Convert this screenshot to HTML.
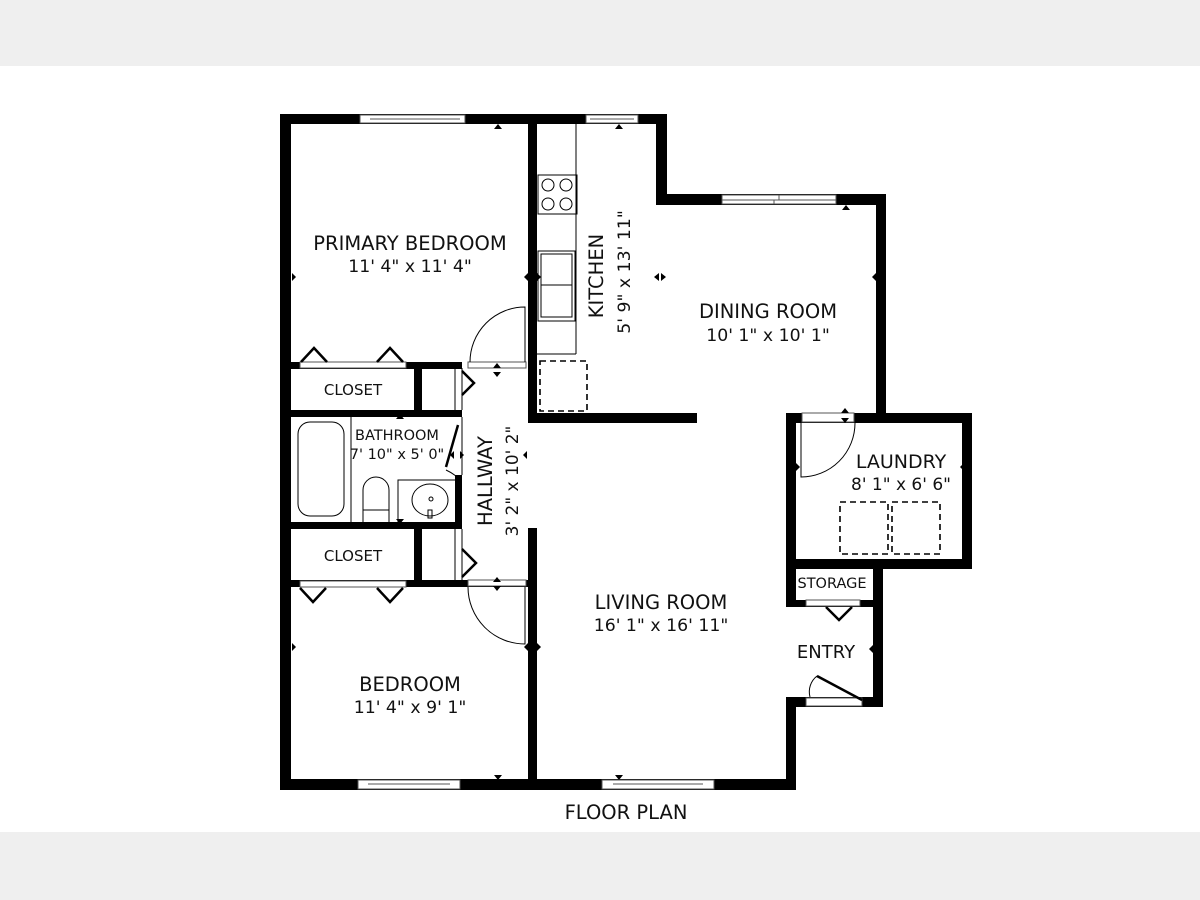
<!DOCTYPE html>
<html><head><meta charset="utf-8"><style>
html,body{margin:0;padding:0;background:#fff}
body{width:1200px;height:900px;position:relative;overflow:hidden;font-family:"DejaVu Sans","Liberation Sans",sans-serif}
.band{position:absolute;left:0;width:1200px;background:#efefef}
svg{position:absolute;left:0;top:0}
text{font-family:"DejaVu Sans","Liberation Sans",sans-serif;fill:#111}
</style></head><body>
<div class="band" style="top:0;height:66px"></div>
<div class="band" style="top:832px;height:68px"></div>
<svg width="1200" height="900" viewBox="0 0 1200 900">
<g fill="#000">
<rect x="280" y="114" width="11" height="676"/>
<rect x="280" y="114" width="387" height="10"/>
<rect x="656" y="114" width="11" height="91"/>
<rect x="656" y="194" width="230" height="11"/>
<rect x="876" y="194" width="10" height="229"/>
<rect x="786" y="413" width="186" height="10"/>
<rect x="962" y="413" width="10" height="156"/>
<rect x="786" y="559" width="186" height="10"/>
<rect x="786" y="413" width="10" height="193"/>
<rect x="786" y="600" width="97" height="7"/>
<rect x="873" y="559" width="10" height="148"/>
<rect x="786" y="697" width="97" height="10"/>
<rect x="786" y="697" width="10" height="93"/>
<rect x="280" y="779" width="516" height="11"/>
<rect x="528" y="114" width="9" height="309"/>
<rect x="528" y="413" width="169" height="10"/>
<rect x="280" y="362" width="182" height="7"/>
<rect x="414" y="362" width="8" height="48"/>
<rect x="280" y="410" width="182" height="7"/>
<rect x="455" y="475" width="7" height="54"/>
<rect x="280" y="522" width="182" height="7"/>
<rect x="414" y="522" width="8" height="59"/>
<rect x="280" y="580" width="257" height="7"/>
<rect x="528" y="528" width="9" height="262"/>
</g>
<g fill="#fff" stroke="#555" stroke-width="1">
<rect x="360" y="115" width="105" height="8"/><line x1="370" y1="119" x2="460" y2="119"/>
<rect x="586" y="115" width="52" height="8"/><line x1="590" y1="119" x2="634" y2="119"/>
<rect x="722" y="195" width="57" height="5"/><rect x="779" y="195" width="57" height="5"/>
<rect x="722" y="200" width="52" height="4"/><rect x="774" y="200" width="62" height="4"/>
<rect x="358" y="780" width="102" height="9"/><line x1="368" y1="784" x2="450" y2="784"/>
<rect x="602" y="780" width="112" height="9"/><line x1="613" y1="784" x2="703" y2="784"/>
<rect x="300" y="362" width="106" height="6"/>
<rect x="300" y="581" width="106" height="6"/>
<rect x="468" y="362" width="58" height="6"/>
<rect x="468" y="580" width="58" height="6"/>
<rect x="802" y="413" width="52" height="9"/>
<rect x="806" y="600" width="54" height="6"/>
<rect x="806" y="698" width="56" height="8"/>
</g>
<g fill="none" stroke="#000" stroke-width="1">
<line x1="576" y1="124" x2="576" y2="354"/><line x1="537" y1="354" x2="576" y2="354"/>
<rect x="538" y="175" width="39" height="39"/>
<circle cx="548" cy="185" r="6"/><circle cx="566" cy="185" r="6"/><circle cx="548" cy="204" r="6"/><circle cx="566" cy="204" r="6"/>
<rect x="538" y="251" width="37" height="70"/><rect x="541" y="254" width="31" height="31"/><rect x="541" y="285" width="31" height="32"/>
<g stroke-width="1.6">
<rect x="540" y="361" width="47" height="50" stroke-dasharray="6,4"/>
<rect x="840" y="502" width="48" height="52" stroke-dasharray="6,4"/>
<rect x="892" y="502" width="48" height="52" stroke-dasharray="6,4"/>
</g>
<path d="M470 362 A55 55 0 0 1 525 307 L525 362"/>
<path d="M468 587 A57 57 0 0 0 525 644 L525 587"/>
<path d="M801 423 L801 477 A54 54 0 0 0 855 423"/>
<path d="M810 697 A20 20 0 0 1 817 676"/>
<path d="M456 476 A50 50 0 0 0 446 470"/>
<line x1="455" y1="368" x2="455" y2="410"/><line x1="462" y1="368" x2="462" y2="410"/>
<line x1="455" y1="529" x2="455" y2="580"/><line x1="462" y1="529" x2="462" y2="580"/>
<line x1="462" y1="417" x2="462" y2="475"/>
<line x1="351" y1="417" x2="351" y2="522"/>
<rect x="298" y="422" width="46" height="94" rx="12"/>
<path d="M363 522 L363 490 A13 13 0 0 1 389 490 L389 522"/><line x1="363" y1="510" x2="389" y2="510"/>
<path d="M398 522 L398 480 L455 480"/>
<ellipse cx="430" cy="500" rx="18" ry="16"/><circle cx="431" cy="499" r="2"/>
<rect x="428" y="510" width="4" height="8"/>
</g>
<g fill="none" stroke="#000" stroke-width="2.5">
<path d="M301 362 L314 348 L327 362"/><path d="M377 362 L390 348 L403 362"/>
<path d="M300 588 L313 602 L326 588"/><path d="M377 588 L390 602 L403 588"/>
<path d="M462 371 L474 383 L462 395"/><path d="M462 549 L476 563 L462 577"/>
<path d="M826 607 L839 620 L852 607"/>
<line x1="446" y1="467" x2="458" y2="425"/>
<line x1="817" y1="676" x2="862" y2="700"/>
</g>
<g fill="#000">
<path d="M494 129 l4 -5 l4 5z"/><path d="M615 129 l4 -5 l4 5z"/>
<path d="M842 210 l4 -5 l4 5z"/><path d="M494 775 l4 5 l4 -5z"/><path d="M615 775 l4 5 l4 -5z"/>
<path d="M296 277 l-4 -4 l0 8z"/><path d="M524 277 l4 -4 l0 8z"/><path d="M541 277 l-4 -4 l0 8z"/>
<path d="M654 277 l5 -4 l0 8z"/><path d="M666 277 l-5 -4 l0 8z"/><path d="M872 277 l4 -4 l0 8z"/>
<path d="M296 647 l-4 -4 l0 8z"/><path d="M524 647 l4 -4 l0 8z"/><path d="M541 647 l-4 -4 l0 8z"/>
<path d="M960 467 l4 -4 l0 8z"/><path d="M800 467 l-4 -4 l0 8z"/><path d="M869 649 l4 -4 l0 8z"/>
<path d="M615 418 l4 -5 l4 5z"/><path d="M615 418 l4 5 l4 -5z"/>
<path d="M841 413 l4 -5 l4 5z"/><path d="M841 418 l4 5 l4 -5z"/>
<path d="M493 368 l4 -5 l4 5z"/><path d="M493 372 l4 5 l4 -5z"/>
<path d="M493 582 l4 -5 l4 5z"/><path d="M493 586 l4 5 l4 -5z"/>
<path d="M396 419 l4 -5 l4 5z"/><path d="M396 519 l4 5 l4 -5z"/>
<path d="M450 455 l4 -4 l0 8z"/><path d="M464 455 l-4 -4 l0 8z"/><path d="M523 455 l4 -4 l0 8z"/>
</g>
<g text-anchor="middle">
<text x="410" y="250" font-size="19.5">PRIMARY BEDROOM</text>
<text x="410" y="272" font-size="17.3">11' 4" x 11' 4"</text>
<text x="768" y="318" font-size="19.5">DINING ROOM</text>
<text x="768" y="341" font-size="17.3">10' 1" x 10' 1"</text>
<text transform="translate(603,276) rotate(-90)" font-size="19.5">KITCHEN</text>
<text transform="translate(630,272) rotate(-90)" font-size="17.3">5' 9" x 13' 11"</text>
<text transform="translate(492,481) rotate(-90)" font-size="19.5">HALLWAY</text>
<text transform="translate(518,481) rotate(-90)" font-size="17">3' 2" x 10' 2"</text>
<text x="353" y="395" font-size="15">CLOSET</text>
<text x="353" y="561" font-size="15">CLOSET</text>
<text x="397" y="440" font-size="14.5">BATHROOM</text>
<text x="397" y="459" font-size="14.5">7' 10" x 5' 0"</text>
<text x="901" y="468" font-size="19">LAUNDRY</text>
<text x="901" y="490" font-size="17">8' 1" x 6' 6"</text>
<text x="832" y="588" font-size="14.5">STORAGE</text>
<text x="826" y="658" font-size="18">ENTRY</text>
<text x="661" y="609" font-size="19.5">LIVING ROOM</text>
<text x="661" y="631" font-size="17.3">16' 1" x 16' 11"</text>
<text x="410" y="691" font-size="19.5">BEDROOM</text>
<text x="410" y="713" font-size="17.3">11' 4" x 9' 1"</text>
<text x="626" y="819" font-size="19.5">FLOOR PLAN</text>
</g>
</svg>
</body></html>
